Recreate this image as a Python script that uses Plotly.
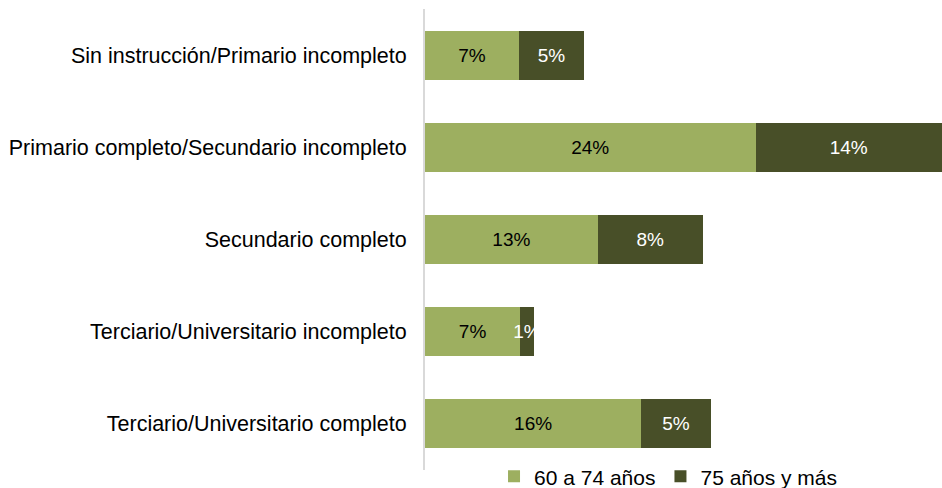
import plotly.graph_objects as go

# Nivel educativo (top to bottom as shown)
categorias = [
    "Sin instrucción/Primario incompleto",
    "Primario completo/Secundario incompleto",
    "Secundario completo",
    "Terciario/Universitario incompleto",
    "Terciario/Universitario completo",
]

# Porcentajes
pct_60_74 = [6.9, 24.3, 12.7, 7.0, 15.9]
pct_75_mas = [4.8, 13.7, 7.7, 1.0, 5.1]

COLORS = {'light': '#9DAF60', 'dark': '#484F28', 'axis': '#D9D9D9'}
FONT = "Liberation Sans, Arial, sans-serif"

fig = go.Figure()

fig.add_trace(go.Bar(
    y=categorias,
    x=pct_60_74,
    name='60 a 74 años',
    orientation='h',
    marker=dict(color=COLORS['light'], line=dict(width=0)),
    texttemplate='%{x:.0f}%',
    textposition='inside',
    insidetextanchor='middle',
    textangle=0,
    textfont=dict(color='#000000', size=19, family=FONT),
))

fig.add_trace(go.Bar(
    y=categorias,
    x=pct_75_mas,
    name='75 años y más',
    orientation='h',
    marker=dict(color=COLORS['dark'], line=dict(width=0)),
    texttemplate='%{x:.0f}%',
    textposition='inside',
    insidetextanchor='middle',
    textangle=0,
    textfont=dict(color='#FFFFFF', size=19, family=FONT),
))

fig.update_layout(
    barmode='stack',
    bargap=0.47,
    width=942,
    height=488,
    margin=dict(l=425, r=0, t=9, b=18, autoexpand=False),
    paper_bgcolor='white',
    plot_bgcolor='white',
    font=dict(family=FONT, size=21.5, color='#000000'),
    uniformtext=dict(minsize=19, mode='show'),
    xaxis=dict(
        range=[0, 38.0],
        visible=False,
        showgrid=False,
        zeroline=False,
    ),
    yaxis=dict(
        autorange='reversed',
        showline=True,
        linecolor=COLORS['axis'],
        linewidth=2,
        showgrid=False,
        zeroline=False,
        ticks='outside',
        ticklen=12,
        tickcolor='rgba(0,0,0,0)',
        tickfont=dict(size=21.5, family=FONT, color='#000000'),
    ),
    legend=dict(
        orientation='h',
        x=0.1335,
        xanchor='left',
        y=0.03,
        yanchor='top',
        font=dict(size=21, family=FONT, color='#000000'),
        bgcolor='rgba(0,0,0,0)',
        borderwidth=0,
        traceorder='normal',
    ),
    showlegend=True,
)

# page body has a default 8px margin; drop it so the chart sits at (0, 0)
fig.write_html(
    "out.html",
    config={'displayModeBar': False},
    post_script="document.body.style.margin='0';",
)
